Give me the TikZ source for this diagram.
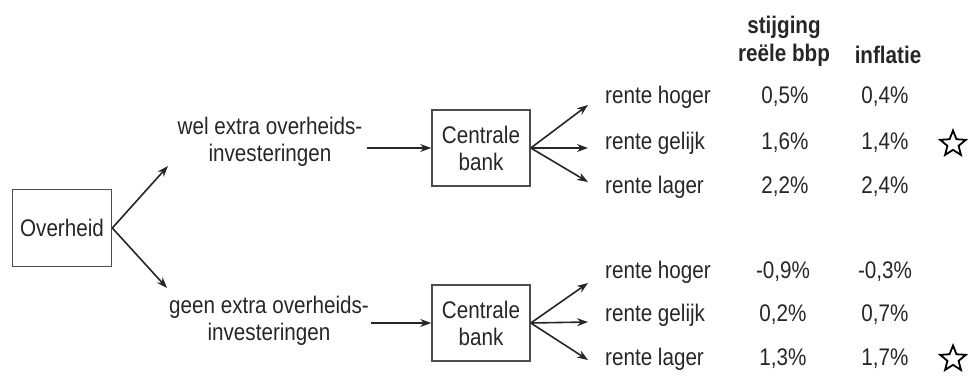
\documentclass[tikz,border=0pt]{standalone}
\usepackage{fontspec}
\setmainfont[FakeStretch=0.86]{Liberation Sans}
\usetikzlibrary{arrows.meta, shapes.geometric}
\tikzset{
  every node/.style={font=\fontsize{24}{27}\selectfont, text=black!85},
  box/.style={draw=black!70, line width=1.6pt, minimum width=98pt, minimum height=76pt, align=center, inner sep=0pt},
  lbl/.style={align=center, inner sep=0pt},
  rij/.style={anchor=west, inner sep=0pt, text height=17pt, text depth=5pt},
  getal/.style={inner sep=0pt, text height=17pt, text depth=5pt},
  ster/.style={star, star points=5, star point ratio=2.3, draw=black, line width=1.8pt, minimum size=27pt, inner sep=0pt},
  pijl/.style={-{Stealth[length=11pt,width=8pt]}, line width=1.6pt, draw=black!85},
}
\begin{document}
\begin{tikzpicture}[x=1pt, y=-1pt]
    \useasboundingbox (0,0) rectangle (968,377);

    % kop
    \node[lbl, font=\fontsize{24}{28}\selectfont\bfseries] (kop1) at (784,41) {stijging\\reële bbp};
    \node[lbl, font=\fontsize{24}{28}\selectfont\bfseries] (kop2) at (888,55) {inflatie};

    \node[box, minimum width=99pt, minimum height=77pt] (ov) at (62,228) {Overheid};
    \node[lbl] (wel) at (270,142) {wel extra overheids-\\investeringen};
    \node[lbl] (geen) at (269,321) {geen extra overheids-\\investeringen};
    \node[box] (cb1) at (481,148) {Centrale\\bank};
    \node[box] (cb2) at (481,323) {Centrale\\bank};

    \coordinate (w1) at (168,166);
    \coordinate (g1) at (167,288);
    \draw[pijl] (ov.east) -- (w1);
    \draw[pijl] (ov.east) -- (g1);
    \draw[pijl, shorten <=4pt] (wel.east |- cb1) -- (cb1.west);
    \draw[pijl, shorten <=2pt] (geen.east |- cb2) -- (cb2.west);

    % met extra investeringen
    \node[rij] (rh1) at (605,98) {rente hoger};
    \node[rij] (rg1) at (605,143) {rente gelijk};
    \node[rij] (rl1) at (605,187) {rente lager};
    \node[getal] (b1) at (785,98) {0,5\%};
    \node[getal] (b2) at (785,143) {1,6\%};
    \node[getal] (b3) at (785,187) {2,2\%};
    \node[getal] (i1) at (885,98) {0,4\%};
    \node[getal] (i2) at (885,143) {1,4\%};
    \node[getal] (i3) at (885,187) {2,4\%};
    \node[ster] (s1) at (953,144) {};

    \coordinate (u1) at (588,105);
    \coordinate (u2) at (588,148);
    \coordinate (u3) at (588,182);
    \draw[pijl] (cb1.east) -- (u1);
    \draw[pijl] (cb1.east) -- (u2);
    \draw[pijl] (cb1.east) -- (u3);

    % zonder extra investeringen
    \node[rij] (rh2) at (605,272) {rente hoger};
    \node[rij] (rg2) at (605,315) {rente gelijk};
    \node[rij] (rl2) at (605,359) {rente lager};
    \node[getal] (b4) at (783,272) {-0,9\%};
    \node[getal] (b5) at (783,315) {0,2\%};
    \node[getal] (b6) at (783,359) {1,3\%};
    \node[getal] (i4) at (885,272) {-0,3\%};
    \node[getal] (i5) at (885,315) {0,7\%};
    \node[getal] (i6) at (885,359) {1,7\%};
    \node[ster] (s2) at (953,359) {};

    \coordinate (l1) at (588,283);
    \coordinate (l2) at (588,322);
    \coordinate (l3) at (588,360);
    \draw[pijl] (cb2.east) -- (l1);
    \draw[pijl] (cb2.east) -- (l2);
    \draw[pijl] (cb2.east) -- (l3);

\end{tikzpicture}
\end{document}
